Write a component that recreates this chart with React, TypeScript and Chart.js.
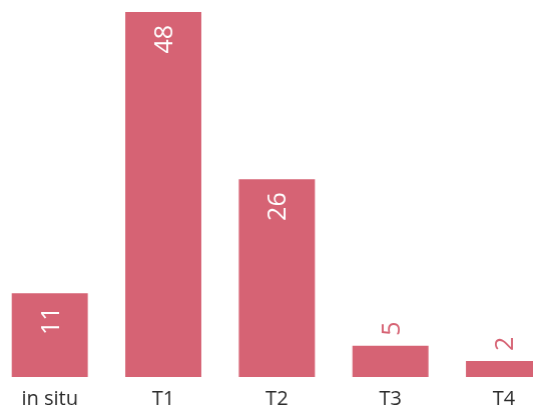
import React, { useEffect, useRef } from "react";
import { Chart, registerables } from "chart.js";

Chart.register(...registerables);

const categories = ["in situ", "T1", "T2", "T3", "T4"];
const values = [11, 48, 26, 4.1, 2.1];
const valueLabels = ["11", "48", "26", "5", "2"];

const BAR_COLOR = "rgb(214,99,116)";
const FONT = "'Open Sans', sans-serif";

const labelPlugin = {
  id: "rotatedLabels",
  afterDatasetsDraw(chart: any) {
    const ctx = chart.ctx;
    const meta = chart.getDatasetMeta(0);
    ctx.save();
    ctx.font = `25px ${FONT}`;
    meta.data.forEach((bar: any, i: number) => {
      const txt = valueLabels[i];
      const w = ctx.measureText(txt).width;
      const h = bar.base - bar.y;
      ctx.save();
      ctx.translate(bar.x + 2, bar.y);
      ctx.rotate(-Math.PI / 2);
      ctx.textBaseline = "middle";
      if (h > w + 24) {
        ctx.fillStyle = "#ffffff";
        ctx.textAlign = "right";
        ctx.fillText(txt, -13, 0);
      } else {
        ctx.fillStyle = BAR_COLOR;
        ctx.textAlign = "left";
        ctx.fillText(txt, 10, 0);
      }
      ctx.restore();
    });
    ctx.restore();
  },
};

export default function App() {
  const ref = useRef<HTMLCanvasElement | null>(null);
  useEffect(() => {
    if (!ref.current) return;
    const chart = new Chart(ref.current, {
      type: "bar",
      data: {
        labels: categories,
        datasets: [
          {
            data: values,
            backgroundColor: BAR_COLOR,
            borderWidth: 0,
            barPercentage: 0.67,
            categoryPercentage: 1,
          },
        ],
      },
      options: {
        animation: false,
        responsive: true,
        maintainAspectRatio: false,
        layout: { padding: { top: 12, bottom: 2, left: 0, right: 0 } },
        plugins: { legend: { display: false }, tooltip: { enabled: false } },
        scales: {
          x: {
            grid: { display: false, drawTicks: false },
            border: { display: false },
            ticks: {
              color: "#2b2b2b",
              font: { family: FONT, size: 20 },
              padding: 10,
              maxRotation: 0,
            },
          },
          y: { display: false, min: 0, max: 48 },
        },
      },
      plugins: [labelPlugin],
    });
    return () => chart.destroy();
  }, []);
  return (
    <div
      style={{
        position: "fixed",
        left: -6.7,
        top: 0,
        width: 566.7,
        height: 423,
      }}
    >
      <canvas ref={ref} />
    </div>
  );
}
